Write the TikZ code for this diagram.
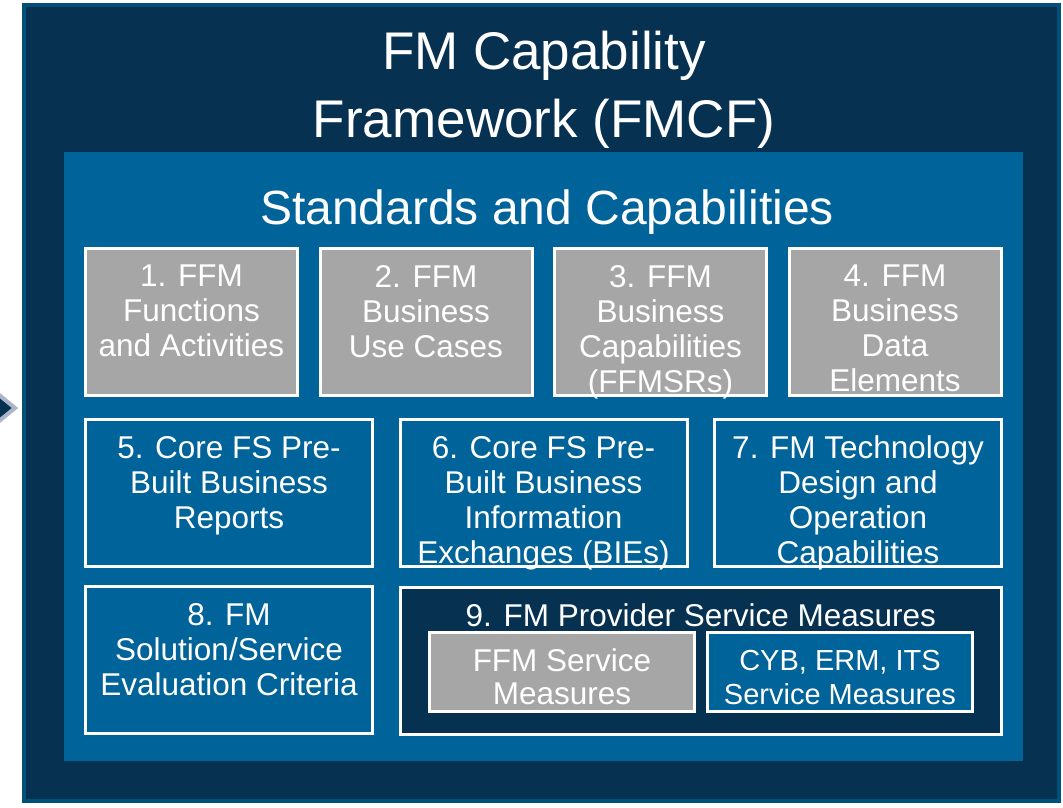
\documentclass[tikz,border=0pt]{standalone}
\usepackage{fontspec}
\setmainfont{Liberation Sans}
\definecolor{navy}{RGB}{7,49,81}
\definecolor{fmblue}{RGB}{0,99,153}
\definecolor{rim}{RGB}{0,80,122}
\definecolor{fmgray}{RGB}{166,166,166}
\definecolor{chevgray}{RGB}{170,182,200}

\begin{document}
\begin{tikzpicture}
            [x=1pt,y=-1pt,
            every node/.style={inner sep=0,outer sep=0},
            gbox/.style={draw=white,line width=3pt,fill=fmgray,minimum width=212pt,minimum height=147pt},
            bbox/.style={draw=white,line width=3pt,fill=fmblue,minimum width=287pt,minimum height=147pt},
            btext/.style={anchor=north,align=center,text=white,font=\fontsize{31.5}{35}\selectfont},
            stext/.style={anchor=north,align=center,text=white,font=\fontsize{29}{34}\selectfont}]

            \clip (0,0) rectangle (1063,807);
            \fill[white] (0,0) rectangle (1063,807);

            % chevron coming in from the left
            \draw[chevgray,fill=navy,line width=4pt,line join=miter] (-40,363) -- (15,408) -- (-40,453) -- cycle;

            \node[draw=rim,fill=navy,line width=4pt,minimum width=1035pt,minimum height=796pt] (fmcf) at (541.5,403) {};
            \node[anchor=north,align=center,text=white,font=\fontsize{53}{68}\selectfont] (title) at (544,31) {FM Capability\\Framework (FMCF)};

            \node[fill=fmblue,minimum width=959pt,minimum height=609pt] (sc) at (543.5,456.5) {};
            \node[anchor=north,text=white,font=\fontsize{48}{56}\selectfont] (sctitle) at (547,190) {Standards and Capabilities};

            % row 1
            \node[gbox] (b1) at (191.5,322) {};
            \node[gbox] (b2) at (426,322) {};
            \node[gbox] (b3) at (660.5,322) {};
            \node[gbox] (b4) at (895,322) {};
            \node[btext] (t1) at ([yshift=-16.5pt]b1.north) {1. FFM\\Functions\\and Activities};
            \node[btext] (t2) at ([yshift=-16.5pt]b2.north) {2. FFM\\Business\\Use Cases};
            \node[btext] (t3) at ([yshift=-16.5pt]b3.north) {3. FFM\\Business\\Capabilities\\(FFMSRs)};
            \node[btext] (t4) at ([yshift=-16.5pt]b4.north) {4. FFM\\Business\\Data\\Elements};

            % row 2
            \node[bbox] (b5) at (229,493) {};
            \node[bbox] (b6) at (543.5,493) {};
            \node[bbox] (b7) at (858,493) {};
            \node[btext] (t5) at ([yshift=-16.5pt]b5.north) {5. Core FS Pre-\\Built Business\\Reports};
            \node[btext] (t6) at ([yshift=-16.5pt]b6.north) {6. Core FS Pre-\\Built Business\\Information\\Exchanges (BIEs)};
            \node[btext] (t7) at ([yshift=-16.5pt]b7.north) {7. FM Technology\\Design and\\Operation\\Capabilities};

            % row 3
            \node[bbox] (b8) at (229,660) {};
            \node[bbox,fill=navy,minimum width=601.5pt] (b9) at (700.75,661) {};
            \node[btext] (t8) at ([yshift=-16.5pt]b8.north) {8. FM\\Solution/Service\\Evaluation Criteria};
            \node[btext] (t9) at ([yshift=-16.5pt]b9.north) {9. FM Provider Service Measures};

            \node[gbox,minimum width=265pt,minimum height=79pt] (ffm) at (562,672) {};
            \node[bbox,minimum width=265pt,minimum height=79pt] (cyb) at (840,672) {};
            \node[stext,font=\fontsize{31.5}{33}\selectfont] (tffm) at ([yshift=-16.5pt]ffm.north) {FFM Service\\Measures};
            \node[stext] (tcyb) at ([yshift=-18pt]cyb.north) {CYB, ERM, ITS\\Service Measures};
          \end{tikzpicture}
\end{document}
